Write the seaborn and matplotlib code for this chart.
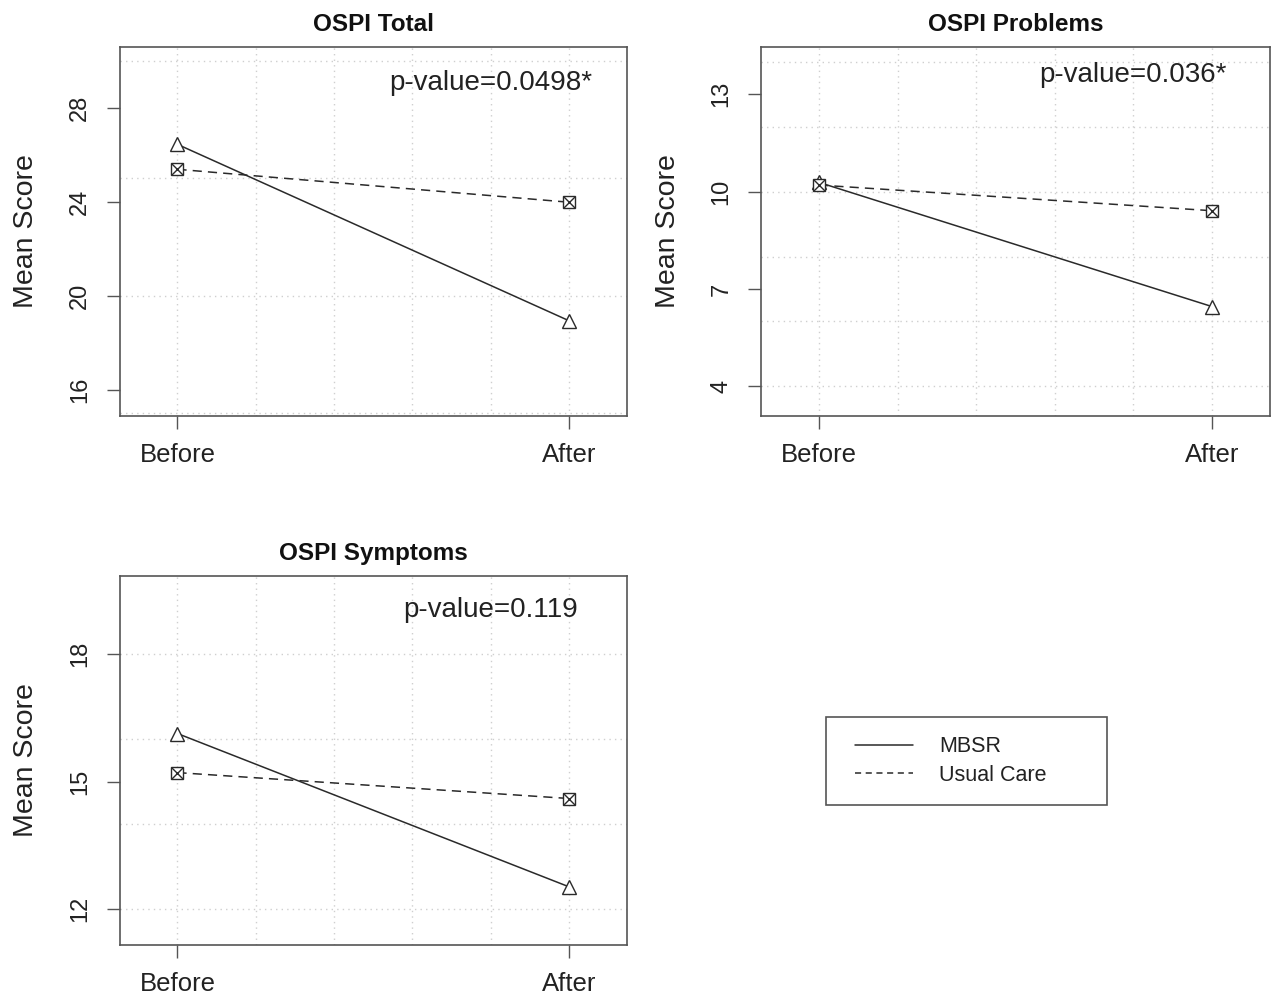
import numpy as np
import pandas as pd
import matplotlib
matplotlib.use("Agg")
import matplotlib.pyplot as plt
from matplotlib.lines import Line2D
from matplotlib.patches import Rectangle
import seaborn as sns

# --- data ---
times = [1, 2]
time_labels = ["Before", "After"]
groups = ["MBSR", "Usual Care"]

panel_titles = ["OSPI Total", "OSPI Problems", "OSPI Symptoms"]
p_values = ["p-value=0.0498*", "p-value=0.036*", "p-value=0.119"]

mbsr_total = [26.44, 18.94]
usual_total = [25.38, 23.98]
mbsr_problems = [10.28, 6.46]
usual_problems = [10.20, 9.41]
mbsr_symptoms = [16.13, 12.52]
usual_symptoms = [15.21, 14.60]

y_ticks = [[16, 20, 24, 28], [4, 7, 10, 13], [12, 15, 18]]
y_grid = [[15, 20, 25, 30], [4, 6, 8, 10, 12, 14], [12, 14, 16, 18]]
y_lims = [(14.89, 30.58), (3.09, 14.45), (11.15, 19.84)]
p_text_y = [29.06, 13.6, 19.03]
x_grid = [1.0, 1.2, 1.4, 1.6, 1.8, 2.0]

mbsr_series = [mbsr_total, mbsr_problems, mbsr_symptoms]
usual_series = [usual_total, usual_problems, usual_symptoms]

sns.set_theme(style="white")
plt.rcParams["font.family"] = ["Liberation Sans", "DejaVu Sans"]

line_col = "#2a2a2a"
box_col = "#555555"
grid_col = "#cfcfcf"
text_col = "#222222"

fig = plt.figure(figsize=(12.75, 10), dpi=100)
fig.patch.set_facecolor("white")

# axes rectangles (fig fraction)
rects = [
    [119.5 / 1275, 1 - 416 / 1000, 507.5 / 1275, 369 / 1000],
    [761 / 1275, 1 - 416 / 1000, 509 / 1275, 369 / 1000],
    [119.5 / 1275, 1 - 945 / 1000, 507.5 / 1275, 369 / 1000],
]

for i in range(3):
    ax = fig.add_axes(rects[i])
    df = pd.DataFrame({
        "time": times * 2,
        "score": mbsr_series[i] + usual_series[i],
        "group": [groups[0]] * 2 + [groups[1]] * 2,
    })

    # dotted grid
    ax.hlines(y_grid[i], 0.852, 2.148, colors=grid_col, linestyles=(0, (1, 3)), lw=1, zorder=0)
    ax.vlines(x_grid, y_lims[i][0], y_lims[i][1], colors=grid_col, linestyles=(0, (1, 3)), lw=1, zorder=0)

    d_m = df[df["group"] == "MBSR"]
    d_u = df[df["group"] == "Usual Care"]
    sns.lineplot(data=d_m, x="time", y="score", ax=ax, color=line_col, lw=1.1,
                 marker="^", ms=10, mfc="white", mec=line_col, mew=1.0, zorder=3)
    sns.lineplot(data=d_u, x="time", y="score", ax=ax, color=line_col, lw=1.1,
                 dashes=False, ls=(0, (6, 4)),
                 marker="s", ms=8, mfc="white", mec=line_col, mew=1.0, zorder=3)
    sns.scatterplot(data=d_u, x="time", y="score", ax=ax, marker="x", s=64,
                    color=line_col, linewidth=1.0, zorder=4)

    ax.set_xlim(0.852, 2.148)
    ax.set_ylim(*y_lims[i])
    ax.set_xticks(times)
    ax.set_xticklabels(time_labels, fontsize=18.5)
    ax.set_yticks(y_ticks[i])
    ax.set_yticklabels([str(t) for t in y_ticks[i]], fontsize=17, rotation=90, va="center")
    ax.tick_params(axis="both", bottom=True, left=True, length=9.5, width=1,
                   color=box_col, labelcolor=text_col)
    ax.tick_params(axis="x", pad=10)
    ax.tick_params(axis="y", pad=11)
    ax.set_xlabel("")
    ax.set_ylabel("Mean Score", fontsize=20.5, color=text_col)
    ax.yaxis.set_label_coords(-0.158, 0.5)
    ax.set_title(panel_titles[i], fontsize=17.5, fontweight="bold", pad=11.5, color="#111111")
    ax.text(1.8, p_text_y[i], p_values[i], ha="center", va="center", fontsize=20, color=text_col)
    for s in ax.spines.values():
        s.set_color(box_col)
        s.set_linewidth(1.2)
        s.set_visible(True)

# legend with a plain rectangular frame
fig.add_artist(Rectangle((826 / 1275, 1 - 805 / 1000), 281 / 1275, 88 / 1000,
                         transform=fig.transFigure, fill=False, edgecolor=box_col, lw=1.2))
handles = [Line2D([], [], color=line_col, lw=1.1),
           Line2D([], [], color=line_col, lw=1.1, ls=(0, (4, 3)))]
fig.legend(handles, groups, loc="center left", bbox_to_anchor=(855 / 1275, 1 - 761 / 1000),
           frameon=False, fontsize=15.5, handlelength=2.7, handletextpad=1.2,
           labelspacing=0.35, borderpad=0, borderaxespad=0, labelcolor=text_col)

fig.savefig("out.png", dpi=100, facecolor="white")
